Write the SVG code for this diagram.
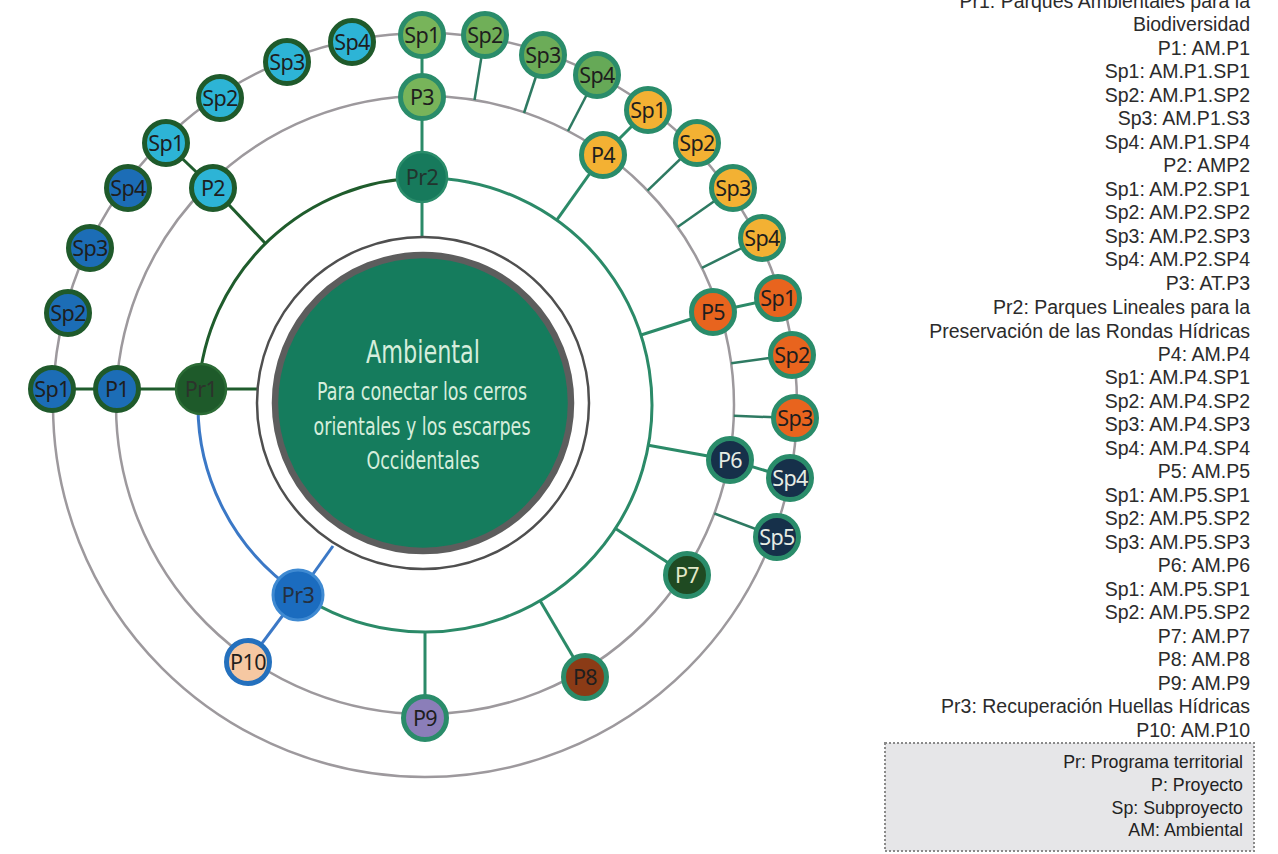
<svg xmlns="http://www.w3.org/2000/svg" width="1278" height="854" viewBox="0 0 1278 854">
<style>
.ring{fill:none;stroke:#9d999d;stroke-width:2.5}
.dg{fill:none;stroke:#1f5c2c;stroke-width:3}
.tg{fill:none;stroke:#2b8a68;stroke-width:3}
.bl{fill:none;stroke:#3b78c6;stroke-width:3}
.sp{stroke:#2e7a62;stroke-width:2.5}
.n{stroke-width:5}
.k1{stroke:#1f5a2b}
.k2{stroke:#2a8c6a}
.lbl{font-family:"Noto Sans","Liberation Sans",sans-serif;font-size:21.5px;text-anchor:middle;fill:#1e1e1e;letter-spacing:-0.6px}
.lt{fill:#e6ece4}
.side{font-family:"Liberation Sans",Arial,sans-serif;font-size:19.5px;text-anchor:end;fill:#2b2b2b}
.leg{font-family:"Liberation Sans",Arial,sans-serif;font-size:17.8px;text-anchor:end;fill:#222}
.ctr{font-family:"Liberation Sans Narrow","DejaVu Sans Condensed","Roboto Condensed",sans-serif;text-anchor:middle;fill:#d6eedc}
</style>
<rect width="1278" height="854" fill="#ffffff"/>

<g id="connectors">
  <circle class="ring" cx="425" cy="405" r="372"/>
  <circle class="ring" cx="425" cy="405" r="309"/>
  <path class="dg" d="M198.6,388.8 A227,227 0 0 1 421.8,178"/>
  <path class="tg" d="M421.8,178 A227,227 0 1 1 299.1,593.9"/>
  <path class="bl" d="M198.6,388.8 A227,227 0 0 0 299.1,593.9"/>
  <line class="dg" x1="52" y1="389" x2="257.5" y2="389"/>
  <line class="dg" x1="213" y1="188" x2="265" y2="243"/>
  <line class="dg" x1="213" y1="188" x2="166" y2="143"/>
  <line class="tg" x1="422" y1="35" x2="422" y2="237"/>
  <line class="sp" x1="485" y1="35" x2="474.5" y2="100"/>
  <line class="sp" x1="543" y1="55" x2="524" y2="113"/>
  <line class="sp" x1="597" y1="75" x2="568" y2="131"/>
  <line class="tg" x1="603" y1="155" x2="556.7" y2="220.1"/>
  <line class="tg" x1="603" y1="155" x2="648" y2="110"/>
  <line class="sp" x1="697" y1="143" x2="647.5" y2="190.6"/>
  <line class="sp" x1="733" y1="188" x2="677.6" y2="227"/>
  <line class="sp" x1="762" y1="238" x2="701.9" y2="267.8"/>
  <line class="tg" x1="713" y1="312" x2="641" y2="335"/>
  <line class="tg" x1="713" y1="312" x2="778" y2="298"/>
  <line class="sp" x1="792" y1="355" x2="731.2" y2="363.3"/>
  <line class="sp" x1="795" y1="418" x2="733.8" y2="415.8"/>
  <line class="tg" x1="730" y1="460" x2="648.4" y2="445.3"/>
  <line class="tg" x1="730" y1="460" x2="790" y2="478"/>
  <line class="sp" x1="777" y1="537" x2="714.4" y2="513.5"/>
  <line class="tg" x1="687" y1="575" x2="615.4" y2="528.6"/>
  <line class="tg" x1="585" y1="677" x2="540.1" y2="600.7"/>
  <line class="tg" x1="425" y1="718" x2="425" y2="632"/>
  <line class="bl" x1="298" y1="595" x2="333" y2="546"/>
  <line class="bl" x1="298" y1="595" x2="248" y2="662"/>
</g>

<g id="center">
  <circle cx="423" cy="403" r="166" fill="#ffffff" stroke="#4f4f4f" stroke-width="2.5"/>
  <circle cx="423" cy="403" r="148" fill="#157c5d" stroke="#5d5d5d" stroke-width="6.5"/>
  <text class="ctr" x="423" y="363" font-size="32" textLength="114" lengthAdjust="spacingAndGlyphs">Ambiental</text>
  <text class="ctr" x="422" y="400" font-size="25" textLength="210" lengthAdjust="spacingAndGlyphs">Para conectar los cerros</text>
  <text class="ctr" x="422" y="435" font-size="25" textLength="217" lengthAdjust="spacingAndGlyphs">orientales y los escarpes</text>
  <text class="ctr" x="423" y="469" font-size="25" textLength="113" lengthAdjust="spacingAndGlyphs">Occidentales</text>
</g>

<g id="Pr1"><circle cx="201" cy="389" r="25" fill="#1e5a2a" stroke="#2b6b35" stroke-width="2.5"/><text class="lbl" x="201" y="397" style="fill:#2c332c">Pr1</text></g>
<g id="P1"><circle class="n k1" cx="117" cy="389" r="21.5" fill="#1c6db6"/><text class="lbl" x="117" y="397">P1</text></g>
<g id="P1-Sp1"><circle class="n k1" cx="52" cy="389" r="21.5" fill="#1c6db6"/><text class="lbl" x="52" y="397">Sp1</text></g>
<g id="P1-Sp2"><circle class="n k1" cx="68" cy="313" r="21.5" fill="#1c6db6"/><text class="lbl" x="68" y="321">Sp2</text></g>
<g id="P1-Sp3"><circle class="n k1" cx="90" cy="248" r="21.5" fill="#1c6db6"/><text class="lbl" x="90" y="256">Sp3</text></g>
<g id="P1-Sp4"><circle class="n k1" cx="128" cy="188" r="21.5" fill="#1c6db6"/><text class="lbl" x="128" y="196">Sp4</text></g>
<g id="P2"><circle class="n k1" cx="213" cy="188" r="21.5" fill="#2db4d6"/><text class="lbl" x="213" y="196">P2</text></g>
<g id="P2-Sp1"><circle class="n k1" cx="166" cy="143" r="21.5" fill="#2db4d6"/><text class="lbl" x="166" y="151">Sp1</text></g>
<g id="P2-Sp2"><circle class="n k1" cx="220" cy="98" r="21.5" fill="#2db4d6"/><text class="lbl" x="220" y="106">Sp2</text></g>
<g id="P2-Sp3"><circle class="n k1" cx="287" cy="62" r="21.5" fill="#2db4d6"/><text class="lbl" x="287" y="70">Sp3</text></g>
<g id="P2-Sp4"><circle class="n k1" cx="352" cy="42" r="21.5" fill="#2db4d6"/><text class="lbl" x="352" y="50">Sp4</text></g>

<g id="Pr2"><circle cx="422" cy="177" r="25" fill="#177a5c" stroke="#2a8c6a" stroke-width="2.5"/><text class="lbl" x="422" y="185" style="fill:#22342e">Pr2</text></g>
<g id="P3"><circle class="n k2" cx="422" cy="97" r="21.5" fill="#78b45a"/><text class="lbl" x="422" y="105">P3</text></g>
<g id="P3-Sp1"><circle class="n k2" cx="422" cy="35" r="21.5" fill="#78b45a"/><text class="lbl" x="422" y="43">Sp1</text></g>
<g id="P3-Sp2"><circle class="n k2" cx="485" cy="35" r="21.5" fill="#70af58"/><text class="lbl" x="485" y="43">Sp2</text></g>
<g id="P3-Sp3"><circle class="n k2" cx="543" cy="55" r="21.5" fill="#6cac58"/><text class="lbl" x="543" y="63">Sp3</text></g>
<g id="P3-Sp4"><circle class="n k2" cx="597" cy="75" r="21.5" fill="#66a957"/><text class="lbl" x="597" y="83">Sp4</text></g>
<g id="P4"><circle class="n k2" cx="603" cy="155" r="21.5" fill="#f3b133"/><text class="lbl" x="603" y="163">P4</text></g>
<g id="P4-Sp1"><circle class="n k2" cx="648" cy="110" r="21.5" fill="#f3b133"/><text class="lbl" x="648" y="118">Sp1</text></g>
<g id="P4-Sp2"><circle class="n k2" cx="697" cy="143" r="21.5" fill="#f3b133"/><text class="lbl" x="697" y="151">Sp2</text></g>
<g id="P4-Sp3"><circle class="n k2" cx="733" cy="188" r="21.5" fill="#f3b133"/><text class="lbl" x="733" y="196">Sp3</text></g>
<g id="P4-Sp4"><circle class="n k2" cx="762" cy="238" r="21.5" fill="#f3b133"/><text class="lbl" x="762" y="246">Sp4</text></g>
<g id="P5"><circle class="n k2" cx="713" cy="312" r="21.5" fill="#e8641e"/><text class="lbl" x="713" y="320">P5</text></g>
<g id="P5-Sp1"><circle class="n k2" cx="778" cy="298" r="21.5" fill="#e8641e"/><text class="lbl" x="778" y="306">Sp1</text></g>
<g id="P5-Sp2"><circle class="n k2" cx="792" cy="355" r="21.5" fill="#e8641e"/><text class="lbl" x="792" y="363">Sp2</text></g>
<g id="P5-Sp3"><circle class="n k2" cx="795" cy="418" r="21.5" fill="#e8641e"/><text class="lbl" x="795" y="426">Sp3</text></g>
<g id="P6"><circle class="n k2" cx="730" cy="460" r="21.5" fill="#16304a"/><text class="lbl lt" x="730" y="468">P6</text></g>
<g id="P6-Sp4"><circle class="n k2" cx="790" cy="478" r="21.5" fill="#16304a"/><text class="lbl lt" x="790" y="486">Sp4</text></g>
<g id="P6-Sp5"><circle class="n k2" cx="777" cy="537" r="21.5" fill="#16304a"/><text class="lbl lt" x="777" y="545">Sp5</text></g>
<g id="P7"><circle class="n k2" cx="687" cy="575" r="21.5" fill="#1f4a22"/><text class="lbl" x="687" y="583" style="fill:#e2e8c8">P7</text></g>
<g id="P8"><circle class="n k2" cx="585" cy="677" r="21.5" fill="#8b3b16"/><text class="lbl" x="585" y="685">P8</text></g>
<g id="P9"><circle class="n k2" cx="425" cy="718" r="21.5" fill="#8b7eb9"/><text class="lbl" x="425" y="726">P9</text></g>

<g id="Pr3"><circle cx="298" cy="595" r="25" fill="#1b6cbf" stroke="#3f8ad2" stroke-width="3"/><text class="lbl" x="298" y="603" style="fill:#243040">Pr3</text></g>
<g id="P10"><circle class="n" cx="248" cy="662" r="21.5" fill="#f6c8a2" stroke="#2470bd"/><text class="lbl" x="248" y="670">P10</text></g>

<g id="codes">
  <text class="side" x="1250" y="7.5">Pr1: Parques Ambientales para la</text>
  <text class="side" x="1250" y="31">Biodiversidad</text>
  <text class="side" x="1250" y="54.6">P1: AM.P1</text>
  <text class="side" x="1250" y="78.1">Sp1: AM.P1.SP1</text>
  <text class="side" x="1250" y="101.6">Sp2: AM.P1.SP2</text>
  <text class="side" x="1250" y="125.2">Sp3: AM.P1.S3</text>
  <text class="side" x="1250" y="148.7">Sp4: AM.P1.SP4</text>
  <text class="side" x="1250" y="172.2">P2: AMP2</text>
  <text class="side" x="1250" y="195.7">Sp1: AM.P2.SP1</text>
  <text class="side" x="1250" y="219.3">Sp2: AM.P2.SP2</text>
  <text class="side" x="1250" y="242.8">Sp3: AM.P2.SP3</text>
  <text class="side" x="1250" y="266.3">Sp4: AM.P2.SP4</text>
  <text class="side" x="1250" y="289.9">P3: AT.P3</text>
  <text class="side" x="1250" y="314">Pr2: Parques Lineales para la</text>
  <text class="side" x="1250" y="337.5">Preservación de las Rondas Hídricas</text>
  <text class="side" x="1250" y="360.5">P4: AM.P4</text>
  <text class="side" x="1250" y="384">Sp1: AM.P4.SP1</text>
  <text class="side" x="1250" y="407.5">Sp2: AM.P4.SP2</text>
  <text class="side" x="1250" y="431">Sp3: AM.P4.SP3</text>
  <text class="side" x="1250" y="454.6">Sp4: AM.P4.SP4</text>
  <text class="side" x="1250" y="478.1">P5: AM.P5</text>
  <text class="side" x="1250" y="501.6">Sp1: AM.P5.SP1</text>
  <text class="side" x="1250" y="525.2">Sp2: AM.P5.SP2</text>
  <text class="side" x="1250" y="548.7">Sp3: AM.P5.SP3</text>
  <text class="side" x="1250" y="572.2">P6: AM.P6</text>
  <text class="side" x="1250" y="595.8">Sp1: AM.P5.SP1</text>
  <text class="side" x="1250" y="619.3">Sp2: AM.P5.SP2</text>
  <text class="side" x="1250" y="642.8">P7: AM.P7</text>
  <text class="side" x="1250" y="666.3">P8: AM.P8</text>
  <text class="side" x="1250" y="689.9">P9: AM.P9</text>
  <text class="side" x="1250" y="713.4">Pr3: Recuperación Huellas Hídricas</text>
  <text class="side" x="1250" y="736.9">P10: AM.P10</text>
</g>

<g id="legend">
  <rect x="885" y="743" width="369" height="108" fill="#e6e6e8" stroke="#8a8a8a" stroke-width="2" stroke-dasharray="2 2"/>
  <text class="leg" x="1243" y="768">Pr: Programa territorial</text>
  <text class="leg" x="1243" y="791">P: Proyecto</text>
  <text class="leg" x="1243" y="814">Sp: Subproyecto</text>
  <text class="leg" x="1243" y="836">AM: Ambiental</text>
</g>
</svg>
